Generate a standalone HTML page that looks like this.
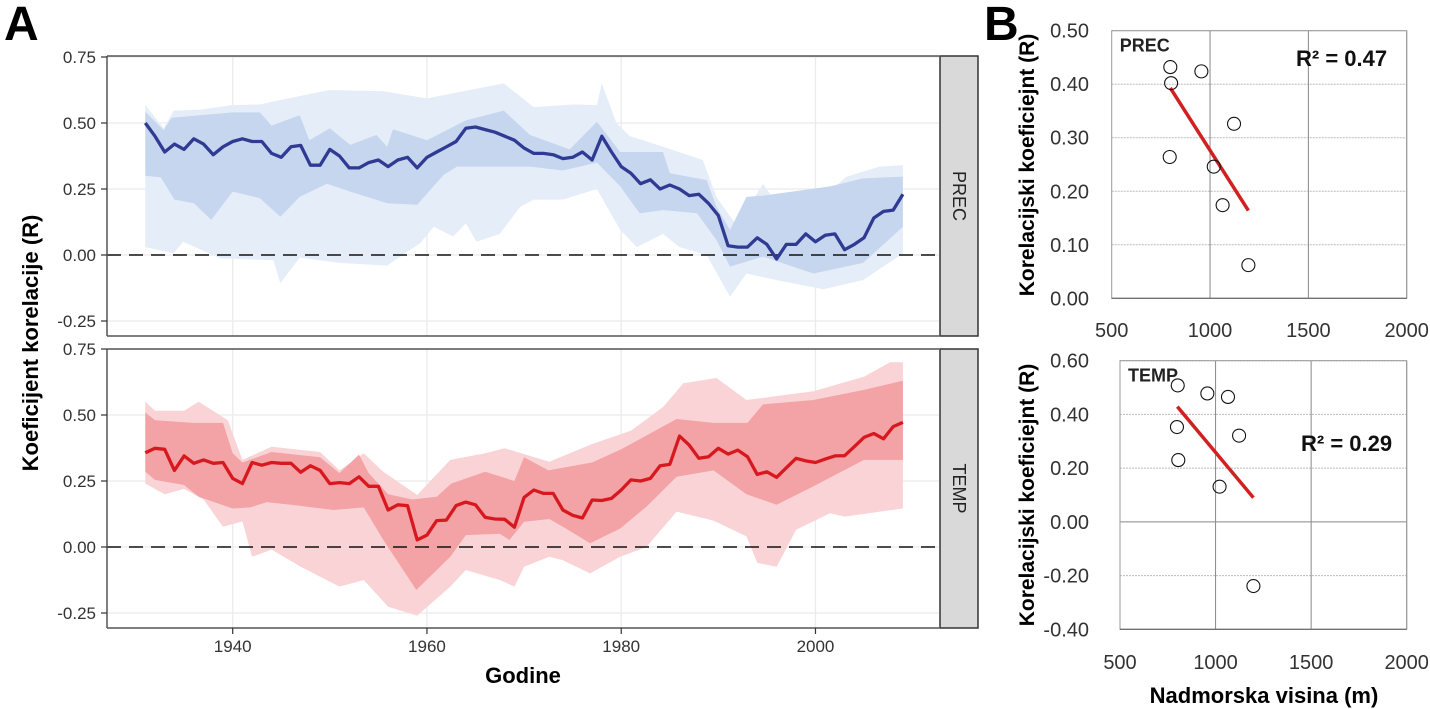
<!DOCTYPE html>
<html><head><meta charset="utf-8"><style>
html,body{margin:0;padding:0;background:#fff;}
svg{display:block;font-family:"Liberation Sans",sans-serif;}
</style></head><body>
<svg id="fig" width="1430" height="709" viewBox="0 0 1430 709" xmlns="http://www.w3.org/2000/svg"></svg>
<script>
// ---------- Panel A data ----------
const years = [];
for (let y = 1931; y <= 2009; y++) years.push(y);
const precLine = [0.50,0.45,0.39,0.42,0.40,0.44,0.42,0.38,0.41,0.43,0.44,0.43,0.43,0.385,0.37,0.41,0.415,0.34,0.34,0.40,0.375,0.33,0.33,0.35,0.36,0.335,0.36,0.37,0.33,0.37,0.39,0.41,0.43,0.48,0.485,0.475,0.465,0.45,0.435,0.405,0.385,0.385,0.38,0.365,0.37,0.39,0.36,0.45,0.39,0.335,0.31,0.27,0.285,0.25,0.265,0.25,0.225,0.23,0.195,0.15,0.035,0.03,0.03,0.065,0.04,-0.015,0.04,0.04,0.08,0.05,0.075,0.08,0.02,0.04,0.065,0.14,0.165,0.17,0.23];
const tempLine = [0.357,0.374,0.37,0.29,0.345,0.317,0.33,0.317,0.32,0.26,0.24,0.32,0.31,0.32,0.317,0.317,0.283,0.308,0.29,0.24,0.244,0.24,0.266,0.23,0.23,0.14,0.16,0.157,0.027,0.045,0.10,0.102,0.157,0.17,0.16,0.112,0.106,0.105,0.075,0.188,0.216,0.203,0.203,0.14,0.12,0.11,0.178,0.176,0.184,0.216,0.254,0.25,0.26,0.308,0.313,0.42,0.386,0.336,0.342,0.374,0.352,0.367,0.342,0.275,0.285,0.264,0.30,0.336,0.326,0.32,0.333,0.345,0.346,0.38,0.415,0.43,0.41,0.456,0.472];

const precOuterUpYears = [1931,1932.9,1933.9,1936.6,1940,1942.8,1944.9,1950,1955.5,1960,1967.9,1971,1975,1977.5,1978,1979.5,1980.9,1984.3,1988.4,1989.8,1991.9,1994.6,1996,2000.8,2003.2,2006.6,2009];
const precOuterUp = [0.568,0.48,0.547,0.55,0.568,0.57,0.587,0.625,0.62,0.593,0.65,0.56,0.57,0.568,0.65,0.50,0.45,0.41,0.36,0.22,0.11,0.27,0.196,0.22,0.297,0.335,0.34];
const precInnerUpYears = [1931,1932.9,1933.7,1940,1942.8,1944,1946.9,1947.9,1950,1952.1,1954.8,1955.9,1956.5,1960,1964,1967.9,1970.6,1974.7,1977.5,1979.9,1984.3,1985,1988.8,1989.8,1991.2,1992.9,1994.6,2001.5,2004.9,2009];
const precInnerUp = [0.543,0.473,0.52,0.54,0.54,0.49,0.53,0.435,0.48,0.417,0.455,0.41,0.476,0.435,0.51,0.547,0.455,0.40,0.505,0.39,0.39,0.31,0.284,0.183,0.095,0.22,0.225,0.26,0.29,0.297];
const precInnerLoYears = [1931,1932.6,1934,1936,1937.8,1940,1942.8,1944.9,1946.9,1949.7,1952.1,1955.9,1959,1961.7,1963.1,1970.6,1974,1977.5,1979.9,1981.9,1984.3,1987.8,1989.8,1991.2,1994.6,1999.8,2004.9,2009];
const precInnerLo = [0.30,0.294,0.21,0.196,0.133,0.24,0.215,0.145,0.22,0.27,0.24,0.196,0.19,0.303,0.335,0.335,0.32,0.35,0.26,0.158,0.17,0.158,0.057,-0.044,-0.006,-0.07,-0.03,0.107];
const precOuterLoYears = [1931,1933.9,1934.9,1938.7,1944.2,1944.9,1946.9,1951,1955.9,1959.3,1960.7,1962.7,1964,1965.1,1967.5,1969.6,1971,1974,1977.5,1979.9,1981.6,1984.3,1986,1988.8,1991.2,1992.9,1996,2000.8,2004.9,2009];
const precOuterLo = [0.03,0.006,0.05,-0.013,-0.02,-0.107,-0.01,-0.03,-0.04,0.045,0.107,0.07,0.12,0.05,0.08,0.183,0.21,0.21,0.25,0.095,0.03,0.08,0.03,0.0,-0.158,-0.07,-0.095,-0.13,-0.095,0.006];

const tempOuterUpYears = [1931,1932,1935,1936.5,1939.5,1941,1944,1949,1951,1953.5,1955.5,1959,1962.4,1966,1968,1972.6,1977,1981,1984.3,1986.4,1989.8,1992.9,1999.8,2005,2007.7,2009];
const tempOuterUp = [0.55,0.516,0.516,0.55,0.48,0.33,0.38,0.36,0.29,0.355,0.285,0.197,0.33,0.355,0.374,0.323,0.39,0.44,0.53,0.62,0.64,0.557,0.59,0.645,0.70,0.70];
const tempInnerUpYears = [1931,1932,1936,1939,1940,1941,1944,1949,1951,1953,1954,1956,1958.5,1961,1962.5,1966,1969,1970,1972.5,1974,1977,1980,1985.7,1989.5,1993,1994.6,1999.8,2005,2009];
const tempInnerUp = [0.51,0.48,0.47,0.47,0.355,0.32,0.36,0.34,0.28,0.35,0.28,0.2,0.18,0.19,0.24,0.285,0.25,0.34,0.29,0.30,0.32,0.37,0.485,0.47,0.47,0.54,0.557,0.595,0.63];
const tempInnerLoYears = [1931,1932,1935,1936.5,1940,1941.8,1943.5,1946,1950.4,1953.5,1955.5,1958.9,1962.4,1964,1967.5,1968.5,1970,1972.6,1974,1976.8,1979.9,1982.6,1985.7,1989.5,1992.9,1996,1999.8,2005,2009];
const tempInnerLo = [0.285,0.254,0.235,0.19,0.146,0.15,0.17,0.16,0.14,0.15,0.027,-0.163,-0.037,0.045,0.05,0.027,0.096,0.106,0.077,0.014,0.07,0.153,0.266,0.29,0.2,0.16,0.23,0.33,0.33];
const tempOuterLoYears = [1931,1933,1935,1937,1939,1941,1942,1944,1947,1951,1953.5,1956,1959,1962.4,1964,1967.5,1969,1970,1972.6,1974,1976.8,1979.9,1982.6,1985.7,1989.5,1992.9,1994,1996,1998,2001.5,2003,2009];
const tempOuterLo = [0.24,0.20,0.22,0.18,0.077,0.097,-0.037,-0.01,-0.075,-0.15,-0.125,-0.226,-0.26,-0.15,-0.087,-0.125,-0.15,-0.075,-0.037,-0.05,-0.10,-0.037,0,0.134,0.1,0.04,-0.06,-0.075,0.065,0.128,0.115,0.146];

const yTicksA = [-0.25,0,0.25,0.5,0.75];
const yTickLabelsA = ["-0.25","0.00","0.25","0.50","0.75"];
const xTicksA = [1940,1960,1980,2000];

// ---------- Panel B data ----------
const bPrecElev = [798,802,956,1122,795,1019,1064,1195];
const bPrecR = [0.432,0.402,0.424,0.326,0.264,0.246,0.174,0.062];
const bPrecFitX = [798,1195];
const bPrecFitY = [0.393,0.164];
const bTempElev = [802,957,1065,798,1123,805,1021,1198];
const bTempR = [0.508,0.478,0.465,0.353,0.321,0.230,0.131,-0.239];
const bTempFitX = [800,1198];
const bTempFitY = [0.429,0.09];
const bXTicks = [500,1000,1500,2000];
const bPrecYTicks = [0,0.1,0.2,0.3,0.4,0.5];
const bPrecYLabels = ["0.00","0.10","0.20","0.30","0.40","0.50"];
const bTempYTicks = [-0.4,-0.2,0,0.2,0.4,0.6];
const bTempYLabels = ["-0.40","-0.20","0.00","0.20","0.40","0.60"];

// ---------- drawing ----------
const NS = "http://www.w3.org/2000/svg";
const svg = document.getElementById("fig");
function mk(tag, attrs, parent, text) {
  const e = document.createElementNS(NS, tag);
  for (const k in attrs) e.setAttribute(k, attrs[k]);
  if (text !== undefined) e.textContent = text;
  (parent || svg).appendChild(e);
  return e;
}
const L = 107, R = 939;
const xA = yr => 232.7 + (yr - 1940) * 9.713;
function yTop(v) { return 255 - v * 264; }
function yBot(v) { return 547 - v * 264; }

function band(upX, upV, loX, loV, ys, color, name) {
  let pts = [];
  for (let i = 0; i < upX.length; i++) pts.push(xA(upX[i]).toFixed(1) + "," + ys(upV[i]).toFixed(1));
  for (let i = loX.length - 1; i >= 0; i--) pts.push(xA(loX[i]).toFixed(1) + "," + ys(loV[i]).toFixed(1));
  const p = mk("polygon", {points: pts.join(" "), fill: color});
  
  
}
function line(vals, ys, color, name) {
  const pts = vals.map((v, i) => xA(years[i]).toFixed(1) + "," + ys(v).toFixed(1)).join(" ");
  const p = mk("polyline", {points: pts, fill: "none", stroke: color, "stroke-width": 3.3, "stroke-linejoin": "round"});
  
  
}

function panelA(top, bottom, ys, kind) {
  const g = mk("g", {});
  
  
  yTicksA.forEach(v => mk("line", {x1: L, x2: R, y1: ys(v), y2: ys(v), stroke: "#ebebeb", "stroke-width": 1.3}, g));
  xTicksA.forEach(t => mk("line", {x1: xA(t), x2: xA(t), y1: top, y2: bottom, stroke: "#ebebeb", "stroke-width": 1.3}, g));
  if (kind === "prec") {
    band(precOuterUpYears, precOuterUp, precOuterLoYears, precOuterLo, ys, "#e5edf8", "prec-outer-band");
    band(precInnerUpYears, precInnerUp, precInnerLoYears, precInnerLo, ys, "#c7d6ef", "prec-inner-band");
  } else {
    band(tempOuterUpYears, tempOuterUp, tempOuterLoYears, tempOuterLo, ys, "#f9d3d5", "temp-outer-band");
    band(tempInnerUpYears, tempInnerUp, tempInnerLoYears, tempInnerLo, ys, "#f3a2a5", "temp-inner-band");
  }
  const z = mk("line", {x1: L, x2: R, y1: ys(0), y2: ys(0), stroke: "#111", "stroke-width": 1.6, "stroke-dasharray": "14,8"});
  
  
  if (kind === "prec") line(precLine, ys, "#2f3b93", "prec-line");
  else line(tempLine, ys, "#d7191f", "temp-line");
  mk("line", {x1: L, x2: R, y1: top, y2: top, stroke: "#333", "stroke-width": 1.2});
  mk("line", {x1: L, x2: R, y1: bottom, y2: bottom, stroke: "#333", "stroke-width": 1.2});
  mk("line", {x1: L, x2: L, y1: top, y2: bottom, stroke: "#555", "stroke-width": 1.5});
  yTicksA.forEach((v, i) => {
    mk("line", {x1: L - 6, x2: L, y1: ys(v), y2: ys(v), stroke: "#333", "stroke-width": 1.2});
    const t = mk("text", {x: 96, y: ys(v) + 6, "text-anchor": "end", "font-size": 17, fill: "#333"}, svg, yTickLabelsA[i]);
    
    
  });
  const s = mk("rect", {x: 940, y: top, width: 38, height: bottom - top, fill: "#d9d9d9", stroke: "#333", "stroke-width": 1.5});
  
  
  const cy = (top + bottom) / 2;
  const st = mk("text", {x: 959, y: cy, "text-anchor": "middle", "font-size": 18, fill: "#222", transform: `rotate(90 959 ${cy})`, "dominant-baseline": "central"}, svg, kind.toUpperCase());
  
  
}
panelA(56, 336, yTop, "prec");
panelA(349, 628, yBot, "temp");
xTicksA.forEach(t => {
  mk("line", {x1: xA(t), x2: xA(t), y1: 628, y2: 634, stroke: "#333", "stroke-width": 1.2});
  const tx = mk("text", {x: xA(t), y: 652, "text-anchor": "middle", "font-size": 17, fill: "#333"}, svg, String(t));
  
  
});
let e;
e = mk("text", {x: 4, y: 40, "font-size": 48, "font-weight": "bold"}, svg, "A");
 
e = mk("text", {x: 984, y: 40, "font-size": 48, "font-weight": "bold"}, svg, "B");
 
e = mk("text", {x: 38, y: 343, "text-anchor": "middle", "font-size": 22, "font-weight": "bold", transform: "rotate(-90 38 343)"}, svg, "Koeficijent korelacije (R)");
 
e = mk("text", {x: 523, y: 683, "text-anchor": "middle", "font-size": 22, "font-weight": "bold"}, svg, "Godine");
 

function panelB(top, bottom, x0, ymin, ymax, yticks, ylabels, elev, rv, fx, fy, title, r2, r2x, r2y, xlabY, kind) {
  const x1 = 1406.7;
  const xs = v => x0 + (v - 500) * (x1 - x0) / 1500;
  const ys = v => bottom - (v - ymin) * (bottom - top) / (ymax - ymin);
  const g = mk("g", {});
  
  
  yticks.forEach((v, i) => {
    mk("line", {x1: x0, x2: x1, y1: ys(v), y2: ys(v), stroke: v === 0 && ymin < 0 ? "#888" : "#bbb", "stroke-width": 1, "stroke-dasharray": v === 0 && ymin < 0 ? "" : "2,1"}, g);
    const t = mk("text", {x: 1089, y: ys(v) + 7, "text-anchor": "end", "font-size": 20, fill: "#333"}, svg, ylabels[i]);
    
    
  });
  bXTicks.forEach(v => {
    if (v > 500) mk("line", {x1: xs(v), x2: xs(v), y1: top, y2: bottom, stroke: "#888", "stroke-width": 1}, g);
    const t = mk("text", {x: xs(v), y: xlabY, "text-anchor": "middle", "font-size": 20, fill: "#333"}, svg, String(v));
    
    
  });
  mk("rect", {x: x0, y: top, width: x1 - x0, height: bottom - top, fill: "none", stroke: "#999", "stroke-width": 1}, g);
  mk("line", {x1: x0, x2: x1, y1: bottom, y2: bottom, stroke: "#666", "stroke-width": 1.2}, g);
  const fl = mk("line", {x1: xs(fx[0]), y1: ys(fy[0]), x2: xs(fx[1]), y2: ys(fy[1]), stroke: "#d0201f", "stroke-width": 3.5});
  
  
  elev.forEach((v, i) => {
    const c = mk("circle", {cx: xs(v), cy: ys(rv[i]), r: 6.5, fill: "none", stroke: "#111", "stroke-width": 1.1});
    
    
  });
  const t = mk("text", {x: x0 + 8, y: top + 21, "font-size": 18, "font-weight": "bold", fill: "#222"}, svg, title);
  
  
  const r = mk("text", {x: r2x, y: r2y, "font-size": 22, "font-weight": "bold", fill: "#111"}, svg);
  
  
  r.textContent = "R² = " + r2;
}
panelB(30.7, 298.3, 1111.7, 0, 0.5, bPrecYTicks, bPrecYLabels, bPrecElev, bPrecR, bPrecFitX, bPrecFitY, "PREC", "0.47", 1296, 66, 337, "prec");
panelB(360.7, 629.3, 1120, -0.4, 0.6, bTempYTicks, bTempYLabels, bTempElev, bTempR, bTempFitX, bTempFitY, "TEMP", "0.29", 1301, 451, 669, "temp");
e = mk("text", {x: 1034, y: 165, "text-anchor": "middle", "font-size": 21, "font-weight": "bold", transform: "rotate(-90 1034 165)"}, svg, "Korelacijski koeficiejnt (R)");
 
e = mk("text", {x: 1034, y: 495, "text-anchor": "middle", "font-size": 21, "font-weight": "bold", transform: "rotate(-90 1034 495)"}, svg, "Korelacijski koeficiejnt (R)");
 
e = mk("text", {x: 1264, y: 703, "text-anchor": "middle", "font-size": 22, "font-weight": "bold"}, svg, "Nadmorska visina (m)");
 
</script>
</body></html>
